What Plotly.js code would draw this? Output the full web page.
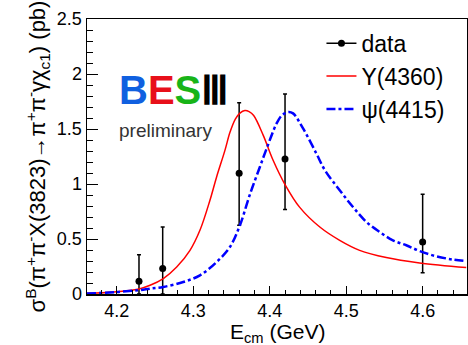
<!DOCTYPE html>
<html>
<head>
<meta charset="utf-8">
<script src="https://cdn.plot.ly/plotly-3.0.1.min.js"></script>
<style>html,body{margin:0;padding:0;background:#fff;}#chart{width:468px;height:345px;}</style>
</head>
<body>
<div id="chart"></div>
<script>
// Data points
var dataE = [4.229, 4.260, 4.360, 4.420, 4.600];
var dataY = [0.115, 0.231, 1.098, 1.228, 0.472];
var errUp = [0.241, 0.378, 0.641, 0.590, 0.434];
var errDown = [0.115, 0.231, 0.473, 0.459, 0.278];

// Y(4360) curve
var y4360E = [4.161, 4.196, 4.229, 4.2435, 4.2608, 4.2783, 4.2957, 4.3087, 4.3218, 4.3305, 4.3414, 4.348, 4.355, 4.361, 4.3675, 4.373, 4.379, 4.3914, 4.4044, 4.420, 4.439, 4.4655, 4.4915, 4.5176, 4.5524, 4.596, 4.657];
var y4360V = [0.006, 0.018, 0.046, 0.079, 0.140, 0.245, 0.397, 0.579, 0.852, 1.064, 1.306, 1.470, 1.590, 1.645, 1.668, 1.658, 1.622, 1.444, 1.216, 0.995, 0.790, 0.609, 0.488, 0.397, 0.331, 0.282, 0.240];

// psi(4415) curve
var psiE = [4.161, 4.200, 4.229, 4.2435, 4.2608, 4.2869, 4.3087, 4.3305, 4.3479, 4.361, 4.374, 4.3871, 4.396, 4.409, 4.416, 4.424, 4.4305, 4.4436, 4.461, 4.4723, 4.4915, 4.5089, 4.5264, 4.5437, 4.5611, 4.5786, 4.596, 4.6178, 4.6395, 4.657];
var psiV = [0.004, 0.018, 0.035, 0.049, 0.064, 0.109, 0.170, 0.291, 0.427, 0.625, 0.904, 1.155, 1.323, 1.551, 1.625, 1.655, 1.642, 1.505, 1.277, 1.124, 0.943, 0.791, 0.655, 0.564, 0.488, 0.443, 0.391, 0.343, 0.313, 0.300];

var traces = [
  {x: [null], y: [null], type: 'scatter', mode: 'lines+markers', name: 'data', hoverinfo: 'skip',
   marker: {color: '#000', size: 7}, line: {color: '#000', width: 1.5}},
  {x: dataE, y: dataY, type: 'scatter', mode: 'markers', name: 'data', showlegend: false,
   marker: {color: '#000', size: 7},
   error_y: {type: 'data', symmetric: false, array: errUp, arrayminus: errDown, color: '#000', thickness: 1.5, width: 2}},
  {x: y4360E, y: y4360V, type: 'scatter', mode: 'lines', name: 'Y(4360)',
   line: {color: '#ff0000', width: 1.5, shape: 'spline', smoothing: 1}},
  {x: psiE, y: psiV, type: 'scatter', mode: 'lines', name: 'ψ(4415)',
   line: {color: '#0000ff', width: 2.5, dash: 'dashdot', shape: 'spline', smoothing: 1}}
];

var font = 'Liberation Sans, Arial, Helvetica, sans-serif';
var layout = {
  width: 468, height: 345,
  margin: {l: 87, r: 1, t: 19, b: 51},
  paper_bgcolor: '#fff', plot_bgcolor: '#fff',
  font: {family: font, color: '#000', size: 18},
  showlegend: true,
  legend: {x: 0.617, y: 0.99, xanchor: 'left', yanchor: 'top', bgcolor: 'rgba(0,0,0,0)',
           font: {size: 23, family: font}, tracegroupgap: 0},
  xaxis: {
    range: [4.161, 4.658], showgrid: false, zeroline: false,
    showline: true, linecolor: '#000', linewidth: 1.5, mirror: true,
    ticks: 'inside', ticklen: 8, tickwidth: 1, tickcolor: '#000',
    dtick: 0.1, tick0: 4.2, tickformat: '.1f',
    minor: {dtick: 0.02, tick0: 4.2, ticks: 'inside', ticklen: 4, tickwidth: 1, tickcolor: '#000', showgrid: false},
    tickfont: {size: 18}
  },
  yaxis: {
    range: [0, 2.5], showgrid: false, zeroline: false,
    showline: true, linecolor: '#000', linewidth: 1.5, mirror: true,
    ticks: 'inside', ticklen: 11, tickwidth: 1, tickcolor: '#000',
    dtick: 0.5, tick0: 0,
    minor: {dtick: 0.1, ticks: 'inside', ticklen: 6, tickwidth: 1, tickcolor: '#000', showgrid: false},
    tickfont: {size: 18},
    title: {text: 'σ<sup>B</sup>(π<sup>+</sup>π<sup>-</sup>X(3823)→π<sup>+</sup>π<sup>-</sup>γχ<sub>c1</sub>) (pb)', font: {size: 22}, standoff: 5}
  },
  annotations: [
    {xref: 'paper', yref: 'paper', x: 0.5, y: -0.14, xanchor: 'center', yanchor: 'middle', showarrow: false,
     text: 'E<sub>cm</sub> (GeV)', font: {size: 21, family: font, color: '#000'}},
    {xref: 'paper', yref: 'paper', x: 0.079, y: 0.742, xanchor: 'left', yanchor: 'middle', showarrow: false,
     text: '<b><span style="color:#1060e0">B</span><span style="color:#e8101a">E</span><span style="color:#18b418">S</span><span style="color:#000">Ⅲ</span></b>',
     font: {size: 40, family: 'Liberation Sans Narrow, Liberation Sans, sans-serif'}},
    {xref: 'paper', yref: 'paper', x: 0.079, y: 0.596, xanchor: 'left', yanchor: 'middle', showarrow: false,
     text: 'preliminary', font: {size: 19, color: '#333', family: font}}
  ]
};

Plotly.newPlot('chart', traces, layout, {displayModeBar: false, staticPlot: true});
</script>
</body>
</html>
